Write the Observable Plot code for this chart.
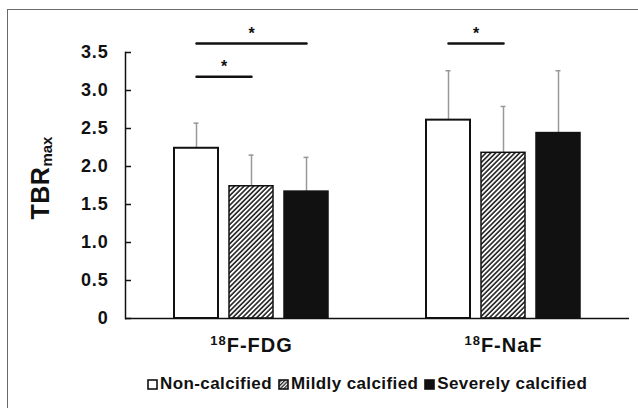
<!DOCTYPE html>
<html><head><meta charset="utf-8">
<script src="https://cdn.jsdelivr.net/npm/d3@7"></script>
<script src="https://cdn.jsdelivr.net/npm/@observablehq/plot@0.6"></script>
<style>
html,body{margin:0;padding:0;background:#fff;}
#wrap{position:relative;width:638px;height:408px;overflow:hidden;font-family:"Liberation Sans",Arial,sans-serif;}
#border{position:absolute;left:7px;top:9px;width:700px;height:500px;border-left:1.5px solid #6a6a6a;border-top:1.5px solid #6a6a6a;}
#chart{position:absolute;left:0;top:0;}
#ylabel{position:absolute;left:40px;top:178px;transform:translate(-50%,-50%) rotate(-90deg);font-weight:bold;font-size:25px;letter-spacing:0.5px;white-space:nowrap;color:#111;}
#ylabel sub{font-size:15px;vertical-align:-3px;letter-spacing:0;}
#legend{position:absolute;left:147px;top:374px;display:flex;align-items:center;font-weight:bold;font-size:17px;letter-spacing:0.4px;color:#111;white-space:nowrap;}
#legend .item{display:flex;align-items:center;margin-right:6px;}
#legend svg{margin-right:2px;}
</style>
</head><body>
<div id="wrap">
<div id="border"></div>
<div id="chart"></div>
<div id="ylabel">TBR<sub>max</sub></div>
<div id="legend"></div>
</div>
<script>
const groups = ["18F-FDG", "18F-NaF"];
const series = ["Non-calcified", "Mildly calcified", "Severely calcified"];
const meanFDG = [2.24, 1.74, 1.67];
const sdFDG = [0.33, 0.41, 0.45];
const meanNaF = [2.61, 2.18, 2.44];
const sdNaF = [0.65, 0.61, 0.82];
const yTicks = [0, 0.5, 1.0, 1.5, 2.0, 2.5, 3.0, 3.5];
const sigGroup = ["18F-FDG", "18F-FDG", "18F-NaF"];
const sigFrom = ["Non-calcified", "Non-calcified", "Non-calcified"];
const sigTo = ["Severely calcified", "Mildly calcified", "Mildly calcified"];
const sigLevel = [3.62, 3.18, 3.62];
const sigLabel = ["*", "*", "*"];

const fills = {"Non-calcified": "white", "Mildly calcified": "url(#hatch)", "Severely calcified": "#111"};

const data = [];
groups.forEach((g, gi) => {
  const m = gi === 0 ? meanFDG : meanNaF;
  const s = gi === 0 ? sdFDG : sdNaF;
  series.forEach((k, i) => data.push({group: g, series: k, mean: m[i], sd: s[i]}));
});
const sigLines = [];
sigGroup.forEach((g, i) => {
  sigLines.push({id: i, group: g, series: sigFrom[i], y: sigLevel[i]});
  sigLines.push({id: i, group: g, series: sigTo[i], y: sigLevel[i]});
});

const base = {
  width: 638,
  height: 370,
  marginTop: 52,
  marginBottom: 52,
  marginLeft: 124,
  marginRight: 9,
  style: {fontFamily: "'Liberation Sans', Arial, sans-serif", color: "#111", background: "transparent"},
  fx: {domain: groups, padding: 0, axis: null},
  x: {domain: series, paddingInner: 0.196, paddingOuter: 0.853, axis: null},
  y: {domain: [0, 3.5], axis: null}
};

const barMarks = series.map(k => Plot.barY(data.filter(d => d.series === k), {
  fx: "group", x: "series", y: "mean", fill: fills[k], stroke: "#111", strokeWidth: k === "Non-calcified" ? 2 : 1.5
}));

// probe pass to read the x band scale, used to centre each star over its line
const probe = Plot.plot({...base, marks: barMarks});
const xs = probe.scale("x");
const starMarks = sigGroup.map((g, i) => Plot.text([{group: g, series: sigFrom[i], y: sigLevel[i], label: sigLabel[i]}], {
  fx: "group", x: "series", y: "y", text: "label", fontSize: 16, fontWeight: "bold",
  dy: -10, dx: (xs.apply(sigTo[i]) - xs.apply(sigFrom[i])) / 2
}));

const plot = Plot.plot({
  ...base,
  marks: [
    Plot.ruleX(data, {fx: "group", x: "series", y1: "mean", y2: d => d.mean + d.sd, stroke: "#999", strokeWidth: 1.5}),
    Plot.tickY(data, {fx: "group", x: "series", y: d => d.mean + d.sd, stroke: "#999", strokeWidth: 1.5, insetLeft: 19.5, insetRight: 19.5}),
    ...barMarks,
    Plot.ruleY([0], {stroke: "#111", strokeWidth: 1.5}),
    Plot.frame({anchor: "left", facetAnchor: "left", stroke: "#111", strokeWidth: 1.5}),
    Plot.axisY({ticks: yTicks, tickFormat: d => d === 0 ? "0" : d.toFixed(1), tickSize: 6, dx: 6, tickPadding: 17, fontSize: 18, fontWeight: "bold", stroke: "#111", strokeWidth: 1.5, label: null}),
    Plot.lineY(sigLines, {fx: "group", x: "series", y: "y", z: "id", stroke: "#111", strokeWidth: 2.5}),
    ...starMarks,
    Plot.text(groups, {fx: d => d, text: d => d, frameAnchor: "bottom", dy: 33, fontSize: 20, fontWeight: "bold", fill: "#111"})
  ]
});

const svg = d3.select(plot);
svg.selectAll("g[aria-label='y-axis tick label'] text").attr("letter-spacing", 0.8);
const defs = svg.insert("defs", ":first-child");
const pat = defs.append("pattern").attr("id", "hatch").attr("patternUnits", "userSpaceOnUse")
  .attr("width", 3.4).attr("height", 3.4).attr("patternTransform", "rotate(45)");
pat.append("rect").attr("width", 3.4).attr("height", 3.4).attr("fill", "white");
pat.append("line").attr("x1", 0.9).attr("y1", 0).attr("x2", 0.9).attr("y2", 3.4).attr("stroke", "#222").attr("stroke-width", 1.6);

// superscript isotope labels
svg.selectAll("text").each(function() {
  const t = this.textContent;
  const m = /^(18)(F-.*)$/.exec(t);
  if (m && this.childNodes.length === 1) {
    const el = d3.select(this);
    el.text(null).attr("letter-spacing", 1);
    el.append("tspan").attr("font-size", 13).attr("dy", -7).text(m[1]);
    el.append("tspan").attr("dy", 7).text(m[2]);
  }
});
document.getElementById("chart").appendChild(plot);
</script>
<script>
const leg = document.getElementById("legend");
const sw = {
  "Non-calcified": '<rect x="1" y="1" width="9" height="9" fill="white" stroke="#111" stroke-width="1.6"/>',
  "Mildly calcified": '<defs><pattern id="hatch2" patternUnits="userSpaceOnUse" width="2.6" height="2.6" patternTransform="rotate(45)"><rect width="2.6" height="2.6" fill="white"/><line x1="0.7" y1="0" x2="0.7" y2="2.6" stroke="#222" stroke-width="1.3"/></pattern></defs><rect x="1" y="1" width="9" height="9" fill="url(#hatch2)" stroke="#111" stroke-width="1.6"/>',
  "Severely calcified": '<rect x="1" y="1" width="9" height="9" fill="#111" stroke="#111" stroke-width="1.6"/>'
};
series.forEach(k => {
  const d = document.createElement("div");
  d.className = "item";
  d.innerHTML = '<svg width="11" height="11">' + sw[k] + '</svg><span>' + k + '</span>';
  leg.appendChild(d);
});
</script>
</body></html>
